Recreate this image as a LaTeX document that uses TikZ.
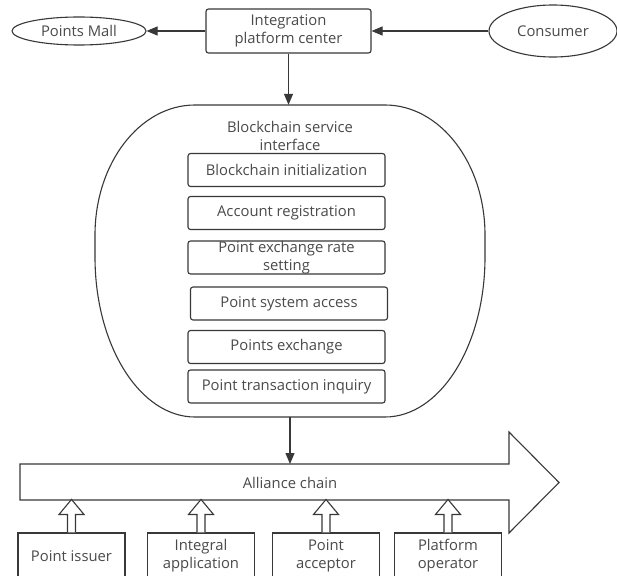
\documentclass[tikz,border=0pt]{standalone}
\usepackage{fontspec}
\setmainfont{Open Sans}
\usetikzlibrary{arrows.meta,shapes.geometric,calc}
\definecolor{ln}{HTML}{383838}
\definecolor{tx}{HTML}{4A4A4A}
\begin{document}
\begin{tikzpicture}[x=1pt,y=-1pt,
  every node/.style={font=\fontsize{14.8}{18}\selectfont, text=tx, inner sep=0pt, align=center},
  lnst/.style={draw=ln, line width=1.1pt},
  arr/.style={draw=ln, line width=1.1pt, -{Triangle[length=11pt,width=9pt]}},
  ibox/.style={lnst, rounded corners=2.5pt, minimum width=197pt, minimum height=33pt},
  tbox/.style={lnst, rounded corners=2.5pt, minimum width=165pt, minimum height=44pt},
  ell/.style={lnst, ellipse},
  bbox/.style={lnst, minimum width=107pt, minimum height=46pt},
  hol/.style={lnst, fill=white, line join=miter}
]
\path[use as bounding box, clip] (0,0) rectangle (617,575);
\fill[white] (0,0) rectangle (617,575);

% top row
\node[tbox] (ipc) at (288.5,31) {Integration\\platform center};
\node[ell, minimum width=134pt, minimum height=28pt] (mall) at (79,31) {Points Mall};
\node[ell, minimum width=128pt, minimum height=52pt] (cons) at (553,31) {Consumer};
\draw[arr] (cons) -- (ipc);
\draw[arr] (ipc) -- (mall);

% service interface blob
\node[minimum width=390pt, minimum height=312pt] (svc) at (290,261) {};
\draw[lnst] (195,105) -- (385,105)
  .. controls (440.2,105) and (485,163.2) .. (485,235) -- (485,257)
  .. controls (485,345.4) and (440.2,417) .. (385,417) -- (195,417)
  .. controls (139.8,417) and (95,345.4) .. (95,257) -- (95,235)
  .. controls (95,163.2) and (139.8,105) .. (195,105) -- cycle;
\draw[arr] (ipc.south) -- (ipc.south |- svc.north);
\node (svct) at (290,136) {Blockchain service\\interface};

\node[ibox] (s1) at (286.5,170) {Blockchain initialization};
\node[ibox] (s2) at (286.5,213) {Account registration};
\node[ibox] (s3) at (286.5,257.5) {Point exchange rate\\setting};
\node[ibox] (s4) at (289,303.5) {Point system access};
\node[ibox] (s5) at (286.5,347) {Points exchange};
\node[ibox] (s6) at (286.5,386.5) {Point transaction inquiry};

% alliance chain big arrow
\draw[lnst, line join=miter] (20,464) -- (509,464) -- (509,432) -- (559,482.5)
  -- (509,533) -- (509,500) -- (20,500) -- cycle;
\node (chain) at (290,483) {Alliance chain};
\coordinate (ctop) at (290,464);
\draw[arr] (svc.south) -- (ctop);

% bottom participants
\node[bbox] (p1) at (71.5,556) {Point issuer};
\node[bbox] (p2) at (201,556) {Integral\\application};
\node[bbox] (p3) at (326,556) {Point\\acceptor};
\node[bbox] (p4) at (448,556) {Platform\\operator};

\foreach \p in {p1,p2,p3,p4}{
  \draw[hol] (\p.north) ++(-4,0) -- ++(0,-18) -- ++(-8.5,0) -- ++(12.5,-15)
    -- ++(12.5,15) -- ++(-8.5,0) -- ++(0,18);
}
\end{tikzpicture}
\end{document}
